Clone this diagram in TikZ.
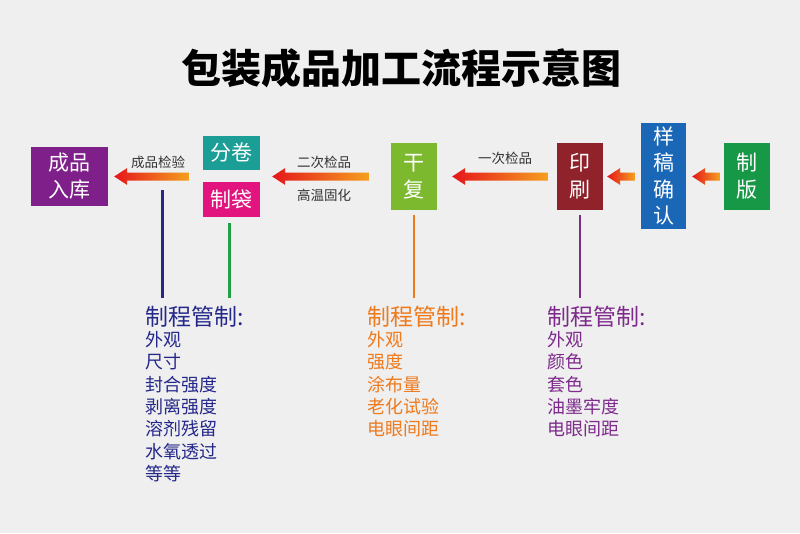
\documentclass[tikz,border=0pt]{standalone}
\usepackage{fontspec}
\setmainfont{Noto Sans CJK SC}
\usetikzlibrary{calc}

\definecolor{bggray}{HTML}{EFEFEF}
\definecolor{arrowred}{HTML}{E5161B}
\definecolor{arroworange}{HTML}{F5A01E}
\definecolor{boxpurple}{HTML}{7E1F8A}
\definecolor{boxteal}{HTML}{1B9E96}
\definecolor{boxmagenta}{HTML}{E2157F}
\definecolor{boxlime}{HTML}{7DB92F}
\definecolor{boxred}{HTML}{8F222B}
\definecolor{boxblue}{HTML}{1A66B7}
\definecolor{boxgreen}{HTML}{169847}
\definecolor{ctrlnavy}{HTML}{24288A}
\definecolor{ctrlgreen}{HTML}{21A046}
\definecolor{ctrlorange}{HTML}{EE7A1C}
\definecolor{ctrlpurple}{HTML}{7E2A8C}

% 渐变箭头: #1 箭尖, #2 箭尾
\newcommand{\flowarrow}[2]{%
  \shade[left color=arrowred, right color=arroworange]
    let \p1=#1, \p2=#2 in
    (\x1,\y1) -- (\x1+13,\y1+8.5) -- (\x1+13,\y1+4) -- (\x2,\y1+4)
    -- (\x2,\y1-4) -- (\x1+13,\y1-4) -- (\x1+13,\y1-8.5) -- cycle;}

\begin{document}
\begin{tikzpicture}[
    x=1pt, y=-1pt,
    stepbox/.style={inner sep=0pt, align=center, text=white, font=\fontsize{21}{27}\selectfont},
    steptext/.style={inner sep=0pt, text=black!80, font=\fontsize{13.5}{14}\selectfont},
    ctrlhead/.style={anchor=west, inner sep=0pt, font=\fontsize{23}{23}\selectfont},
    ctrlitems/.style={anchor=north west, inner sep=0pt, align=left, font=\fontsize{18}{22.4}\selectfont},
    vline/.style={line width=2.6pt}
]
    % 背景
    \fill[bggray] (0,0) rectangle (800,533);
    \useasboundingbox (0,0) rectangle (800,533);

    % 标题
    \node[inner sep=0pt, font=\fontsize{40}{40}\selectfont\bfseries] (title) at (401,68) {包装成品加工流程示意图};

    % 工序方框
    \node[stepbox, fill=boxpurple, minimum width=77, minimum height=59] (ruku) at (69.5,176.5) {成品\\入库};
    \node[stepbox, fill=boxteal, minimum width=57, minimum height=34] (fenjuan) at (231.5,153) {分卷};
    \node[stepbox, fill=boxmagenta, minimum width=57, minimum height=35] (zhidai) at (231.5,199.5) {制袋};
    \node[stepbox, fill=boxlime, minimum width=46, minimum height=67] (ganfu) at (414,176.5) {干\\复};
    \node[stepbox, fill=boxred, minimum width=46, minimum height=67] (yinshua) at (580,176.5) {印\\刷};
    \node[stepbox, fill=boxblue, minimum width=45, minimum height=106, font=\fontsize{21}{26.5}\selectfont] (yanggao) at (663.5,176) {样\\稿\\确\\认};
    \node[stepbox, fill=boxgreen, minimum width=46, minimum height=67] (zhiban) at (747,176.5) {制\\版};

    % 箭头
    \flowarrow{($(ruku.east)+(6,0)$)}{($(fenjuan.west |- ruku.east)+(-14,0)$)}
    \flowarrow{($(fenjuan.east |- ganfu.west)+(12,0)$)}{($(ganfu.west)+(-22,0)$)}
    \flowarrow{($(ganfu.east)+(15,0)$)}{($(yinshua.west)+(-9,0)$)}
    \flowarrow{($(yinshua.east)+(4,0)$)}{($(yanggao.west |- yinshua.east)+(-6,0)$)}
    \flowarrow{($(yanggao.east |- zhiban.west)+(6,0)$)}{($(zhiban.west)+(-4,0)$)}

    % 箭头说明
    \node[steptext] (jianyan) at (158,162) {成品检验};
    \node[steptext] (erci) at (324,162) {二次检品};
    \node[steptext] (gaowen) at (324,195) {高温固化};
    \node[steptext] (yici) at (505,158) {一次检品};

    % 制程管制
    \node[ctrlhead, text=ctrlnavy] (ctrlA) at (145,317) {制程管制:};
    \node[ctrlitems, text=ctrlnavy] (itemsA) at (145,331) {外观\\尺寸\\封合强度\\剥离强度\\溶剂残留\\水氧透过\\等等};
    \node[ctrlhead, text=ctrlorange] (ctrlB) at (367,317) {制程管制:};
    \node[ctrlitems, text=ctrlorange] (itemsB) at (367,331) {外观\\强度\\涂布量\\老化试验\\电眼间距};
    \node[ctrlhead, text=ctrlpurple] (ctrlC) at (547,317) {制程管制:};
    \node[ctrlitems, text=ctrlpurple] (itemsC) at (547,331) {外观\\颜色\\套色\\油墨牢度\\电眼间距};

    % 竖线
    \coordinate (jianyanline) at (162.5,177);
    \draw[vline, ctrlnavy, shorten <=13pt, shorten >=8pt] (jianyanline) -- (jianyanline |- ctrlA.north);
    \draw[vline, ctrlgreen, shorten <=6pt, shorten >=8pt] ([xshift=-2pt]zhidai.south) -- ([xshift=-2pt]zhidai.south |- ctrlA.north);
    \draw[vline, ctrlorange, shorten <=5pt, shorten >=8pt] (ganfu.south) -- (ganfu.south |- ctrlB.north);
    \draw[vline, ctrlpurple, shorten <=5pt, shorten >=8pt] (yinshua.south) -- (yinshua.south |- ctrlC.north);
\end{tikzpicture}
\end{document}
